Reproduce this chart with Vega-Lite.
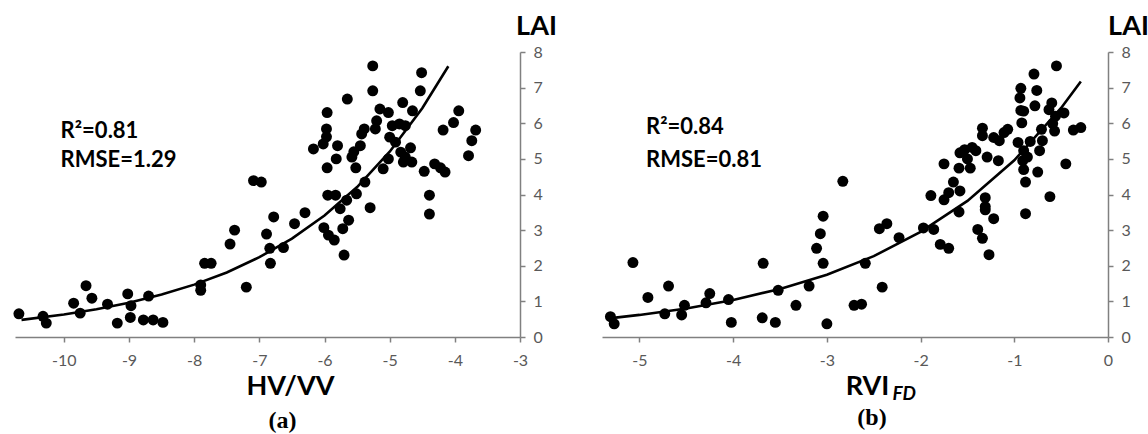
{
  "$schema": "https://vega.github.io/schema/vega-lite/v6.json",
  "padding": {"left": 13, "top": 12, "right": 2, "bottom": 2},
  "background": "white",
  "bounds": "flush",
  "spacing": 82,
  "config": {
    "view": {"stroke": null},
    "axis": {
      "grid": false,
      "domainColor": "#808080",
      "domainWidth": 1.5,
      "tickColor": "#808080",
      "tickWidth": 1.5,
      "tickSize": 5,
      "labelColor": "#595959",
      "labelFont": "Lato",
      "labelFontSize": 16,
      "labelBound": false,
      "labelFlush": false,
      "labelOverlap": false,
      "labelExpr": "'' + datum.value",
      "titleFont": "Lato",
      "titleFontSize": 27,
      "titleFontWeight": "bold",
      "titleColor": "black"
    }
  },
  "datasets": {
    "a": [
      {"x": -10.69, "y": 0.65}, {"x": -10.32, "y": 0.58}, {"x": -10.27, "y": 0.39}, {"x": -9.85, "y": 0.95},
      {"x": -9.75, "y": 0.67}, {"x": -9.66, "y": 1.44}, {"x": -9.57, "y": 1.09}, {"x": -9.33, "y": 0.92},
      {"x": -9.18, "y": 0.39}, {"x": -9.02, "y": 1.21}, {"x": -8.97, "y": 0.88}, {"x": -8.98, "y": 0.55},
      {"x": -8.78, "y": 0.48}, {"x": -8.7, "y": 1.15}, {"x": -8.63, "y": 0.48}, {"x": -8.48, "y": 0.41},
      {"x": -7.9, "y": 1.46}, {"x": -7.9, "y": 1.31}, {"x": -7.84, "y": 2.07}, {"x": -7.74, "y": 2.07},
      {"x": -7.45, "y": 2.61}, {"x": -7.38, "y": 3.0}, {"x": -7.2, "y": 1.4}, {"x": -7.09, "y": 4.39},
      {"x": -6.97, "y": 4.35}, {"x": -6.89, "y": 2.89}, {"x": -6.84, "y": 2.49}, {"x": -6.83, "y": 2.07},
      {"x": -6.78, "y": 3.37}, {"x": -6.63, "y": 2.51}, {"x": -6.46, "y": 3.18}, {"x": -6.3, "y": 3.49},
      {"x": -6.17, "y": 5.28}, {"x": -6.02, "y": 5.42}, {"x": -5.97, "y": 5.84}, {"x": -5.97, "y": 5.62},
      {"x": -5.96, "y": 6.3}, {"x": -5.96, "y": 4.75}, {"x": -5.95, "y": 3.98}, {"x": -6.01, "y": 3.07},
      {"x": -5.94, "y": 2.86}, {"x": -5.85, "y": 2.72}, {"x": -5.83, "y": 3.98}, {"x": -5.8, "y": 5.37},
      {"x": -5.82, "y": 5.0}, {"x": -5.76, "y": 3.6}, {"x": -5.72, "y": 3.04}, {"x": -5.7, "y": 2.3},
      {"x": -5.66, "y": 3.84}, {"x": -5.65, "y": 6.68}, {"x": -5.63, "y": 3.28}, {"x": -5.58, "y": 5.05},
      {"x": -5.55, "y": 5.2}, {"x": -5.52, "y": 4.75}, {"x": -5.51, "y": 4.02}, {"x": -5.45, "y": 5.37},
      {"x": -5.43, "y": 5.7}, {"x": -5.38, "y": 4.35}, {"x": -5.39, "y": 5.84}, {"x": -5.3, "y": 3.63},
      {"x": -5.26, "y": 7.61}, {"x": -5.26, "y": 6.91}, {"x": -5.22, "y": 5.84}, {"x": -5.2, "y": 6.07},
      {"x": -5.15, "y": 6.4}, {"x": -5.1, "y": 4.72}, {"x": -5.02, "y": 6.3}, {"x": -5.02, "y": 5.0},
      {"x": -5.0, "y": 5.61}, {"x": -4.96, "y": 5.93}, {"x": -4.91, "y": 5.47}, {"x": -4.85, "y": 5.98},
      {"x": -4.83, "y": 5.19}, {"x": -4.8, "y": 6.58}, {"x": -4.79, "y": 4.91}, {"x": -4.76, "y": 5.93},
      {"x": -4.76, "y": 5.05}, {"x": -4.68, "y": 5.31}, {"x": -4.66, "y": 4.91}, {"x": -4.65, "y": 6.35},
      {"x": -4.51, "y": 7.42}, {"x": -4.53, "y": 6.91}, {"x": -4.47, "y": 4.65}, {"x": -4.39, "y": 3.98},
      {"x": -4.39, "y": 3.45}, {"x": -4.31, "y": 4.86}, {"x": -4.22, "y": 4.75}, {"x": -4.15, "y": 4.63},
      {"x": -4.18, "y": 5.81}, {"x": -4.02, "y": 6.02}, {"x": -3.94, "y": 6.35}, {"x": -3.79, "y": 5.09},
      {"x": -3.74, "y": 5.51}, {"x": -3.68, "y": 5.81}
    ],
    "curve_a": [
      {"x": -10.65, "y": 0.48}, {"x": -10.0, "y": 0.63}, {"x": -9.5, "y": 0.78}, {"x": -9.0, "y": 0.96},
      {"x": -8.5, "y": 1.19}, {"x": -8.0, "y": 1.47}, {"x": -7.5, "y": 1.81}, {"x": -7.0, "y": 2.24},
      {"x": -6.5, "y": 2.76}, {"x": -6.0, "y": 3.41}, {"x": -5.5, "y": 4.21}, {"x": -5.0, "y": 5.2},
      {"x": -4.5, "y": 6.42}, {"x": -4.1, "y": 7.6}
    ],
    "b": [
      {"x": -5.31, "y": 0.57}, {"x": -5.27, "y": 0.37}, {"x": -5.07, "y": 2.09}, {"x": -4.91, "y": 1.11},
      {"x": -4.73, "y": 0.65}, {"x": -4.69, "y": 1.43}, {"x": -4.55, "y": 0.62}, {"x": -4.52, "y": 0.89},
      {"x": -4.29, "y": 0.96}, {"x": -4.25, "y": 1.22}, {"x": -4.05, "y": 1.05}, {"x": -4.02, "y": 0.41},
      {"x": -3.69, "y": 0.54}, {"x": -3.68, "y": 2.07}, {"x": -3.55, "y": 0.41}, {"x": -3.52, "y": 1.31},
      {"x": -3.33, "y": 0.89}, {"x": -3.19, "y": 1.43}, {"x": -3.11, "y": 2.49}, {"x": -3.07, "y": 2.9},
      {"x": -3.04, "y": 3.39}, {"x": -3.04, "y": 2.07}, {"x": -3.0, "y": 0.37}, {"x": -2.83, "y": 4.37},
      {"x": -2.71, "y": 0.89}, {"x": -2.63, "y": 0.92}, {"x": -2.59, "y": 2.07}, {"x": -2.44, "y": 3.04},
      {"x": -2.36, "y": 3.18}, {"x": -2.41, "y": 1.4}, {"x": -2.23, "y": 2.79}, {"x": -1.97, "y": 3.06},
      {"x": -1.89, "y": 3.97}, {"x": -1.86, "y": 3.02}, {"x": -1.79, "y": 2.6}, {"x": -1.75, "y": 4.86},
      {"x": -1.75, "y": 3.85}, {"x": -1.7, "y": 2.49}, {"x": -1.7, "y": 4.05}, {"x": -1.65, "y": 4.35},
      {"x": -1.59, "y": 4.74}, {"x": -1.59, "y": 3.51}, {"x": -1.58, "y": 4.1}, {"x": -1.58, "y": 5.17},
      {"x": -1.53, "y": 5.26}, {"x": -1.5, "y": 5.0}, {"x": -1.47, "y": 4.74}, {"x": -1.45, "y": 5.32},
      {"x": -1.41, "y": 5.23}, {"x": -1.39, "y": 3.02}, {"x": -1.34, "y": 5.86}, {"x": -1.34, "y": 5.65},
      {"x": -1.34, "y": 2.77}, {"x": -1.31, "y": 3.91}, {"x": -1.31, "y": 3.66}, {"x": -1.31, "y": 3.57},
      {"x": -1.29, "y": 5.05}, {"x": -1.27, "y": 2.31}, {"x": -1.22, "y": 3.32}, {"x": -1.22, "y": 5.6},
      {"x": -1.17, "y": 4.95}, {"x": -1.16, "y": 5.51}, {"x": -1.11, "y": 5.74}, {"x": -1.07, "y": 5.83},
      {"x": -0.96, "y": 5.46}, {"x": -0.94, "y": 6.71}, {"x": -0.93, "y": 6.98}, {"x": -0.93, "y": 6.36},
      {"x": -0.92, "y": 6.01}, {"x": -0.91, "y": 4.95}, {"x": -0.9, "y": 4.7}, {"x": -0.9, "y": 5.23},
      {"x": -0.88, "y": 4.35}, {"x": -0.88, "y": 3.46}, {"x": -0.9, "y": 6.34}, {"x": -0.86, "y": 5.05},
      {"x": -0.83, "y": 5.49}, {"x": -0.79, "y": 7.38}, {"x": -0.78, "y": 6.49}, {"x": -0.76, "y": 6.92},
      {"x": -0.75, "y": 4.63}, {"x": -0.73, "y": 5.23}, {"x": -0.71, "y": 5.83}, {"x": -0.7, "y": 5.51},
      {"x": -0.62, "y": 3.94}, {"x": -0.6, "y": 6.57}, {"x": -0.63, "y": 6.38}, {"x": -0.59, "y": 5.99},
      {"x": -0.57, "y": 5.78}, {"x": -0.55, "y": 7.61}, {"x": -0.56, "y": 6.2}, {"x": -0.47, "y": 6.29},
      {"x": -0.45, "y": 4.86}, {"x": -0.37, "y": 5.81}, {"x": -0.29, "y": 5.88}
    ],
    "curve_b": [
      {"x": -5.3, "y": 0.53}, {"x": -5.0, "y": 0.62}, {"x": -4.5, "y": 0.8}, {"x": -4.0, "y": 1.04},
      {"x": -3.5, "y": 1.35}, {"x": -3.0, "y": 1.75}, {"x": -2.5, "y": 2.27}, {"x": -2.0, "y": 2.95},
      {"x": -1.5, "y": 3.82}, {"x": -1.0, "y": 4.96}, {"x": -0.5, "y": 6.43}, {"x": -0.29, "y": 7.17}
    ]
  },
  "hconcat": [
    {
      "width": 505,
      "height": 285,
      "title": {"text": "(a)", "orient": "bottom", "frame": "group", "dx": 15, "offset": 10, "font": "Liberation Serif", "fontSize": 24, "fontWeight": "bold", "color": "black"},
      "layer": [
        {
          "data": {"name": "a"},
          "mark": {"type": "point", "filled": true, "size": 120, "color": "black", "opacity": 1},
          "encoding": {
            "x": {"field": "x", "type": "quantitative", "scale": {"domain": [-10.75, -3], "nice": false, "zero": false},
              "axis": {"values": [-10, -9, -8, -7, -6, -5, -4, -3], "labelPadding": 10, "title": "HV/VV", "titleX": 275, "titleY": 57, "titleBaseline": "alphabetic", "titleAlign": "center"}},
            "y": {"field": "y", "type": "quantitative", "scale": {"domain": [0, 8], "nice": false},
              "axis": {"orient": "right", "values": [0, 1, 2, 3, 4, 5, 6, 7, 8], "labelPadding": 8, "title": "LAI", "titleAngle": 0, "titleX": 16, "titleY": -18, "titleAlign": "center", "titleBaseline": "alphabetic"}}
          }
        },
        {
          "data": {"name": "curve_a"},
          "mark": {"type": "line", "color": "black", "strokeWidth": 2.6},
          "encoding": {
            "x": {"field": "x", "type": "quantitative", "scale": {"domain": [-10.75, -3], "nice": false, "zero": false},
              "axis": {"values": [-10, -9, -8, -7, -6, -5, -4, -3], "labelPadding": 10, "title": "HV/VV", "titleX": 275, "titleY": 57, "titleBaseline": "alphabetic", "titleAlign": "center"}},
            "y": {"field": "y", "type": "quantitative", "scale": {"domain": [0, 8], "nice": false},
              "axis": {"orient": "right", "values": [0, 1, 2, 3, 4, 5, 6, 7, 8], "labelPadding": 8, "title": "LAI", "titleAngle": 0, "titleX": 16, "titleY": -18, "titleAlign": "center", "titleBaseline": "alphabetic"}}
          }
        },
        {
          "data": {"values": [{"label": "R²=0.81"}]},
          "mark": {"type": "text", "align": "left", "baseline": "alphabetic", "font": "Lato", "fontSize": 22, "fontWeight": "bold", "color": "black"},
          "encoding": {
            "x": {"datum": -10.05, "type": "quantitative", "scale": {"domain": [-10.75, -3], "nice": false, "zero": false},
              "axis": {"values": [-10, -9, -8, -7, -6, -5, -4, -3], "labelPadding": 10, "title": "HV/VV", "titleX": 275, "titleY": 57, "titleBaseline": "alphabetic", "titleAlign": "center"}},
            "y": {"datum": 5.59, "type": "quantitative", "scale": {"domain": [0, 8], "nice": false},
              "axis": {"orient": "right", "values": [0, 1, 2, 3, 4, 5, 6, 7, 8], "labelPadding": 8, "title": "LAI", "titleAngle": 0, "titleX": 16, "titleY": -18, "titleAlign": "center", "titleBaseline": "alphabetic"}},
            "text": {"field": "label"}
          }
        },
        {
          "data": {"values": [{"label": "RMSE=1.29"}]},
          "mark": {"type": "text", "align": "left", "baseline": "alphabetic", "font": "Lato", "fontSize": 22, "fontWeight": "bold", "color": "black"},
          "encoding": {
            "x": {"datum": -10.05, "type": "quantitative", "scale": {"domain": [-10.75, -3], "nice": false, "zero": false},
              "axis": {"values": [-10, -9, -8, -7, -6, -5, -4, -3], "labelPadding": 10, "title": "HV/VV", "titleX": 275, "titleY": 57, "titleBaseline": "alphabetic", "titleAlign": "center"}},
            "y": {"datum": 4.78, "type": "quantitative", "scale": {"domain": [0, 8], "nice": false},
              "axis": {"orient": "right", "values": [0, 1, 2, 3, 4, 5, 6, 7, 8], "labelPadding": 8, "title": "LAI", "titleAngle": 0, "titleX": 16, "titleY": -18, "titleAlign": "center", "titleBaseline": "alphabetic"}},
            "text": {"field": "label"}
          }
        }
      ]
    },
    {
      "width": 506,
      "height": 285,
      "title": {"text": "(b)", "orient": "bottom", "frame": "group", "dx": 17, "offset": 2, "font": "Liberation Serif", "fontSize": 24, "fontWeight": "bold", "color": "black"},
      "layer": [
        {
          "data": {"name": "b"},
          "mark": {"type": "point", "filled": true, "size": 120, "color": "black", "opacity": 1},
          "encoding": {
            "x": {"field": "x", "type": "quantitative", "scale": {"domain": [-5.4, 0], "nice": false, "zero": false},
              "axis": {"values": [-5, -4, -3, -2, -1, 0], "labelPadding": 10, "title": "RVI", "titleX": 265, "titleY": 57, "titleBaseline": "alphabetic", "titleAlign": "center"}},
            "y": {"field": "y", "type": "quantitative", "scale": {"domain": [0, 8], "nice": false},
              "axis": {"orient": "right", "values": [0, 1, 2, 3, 4, 5, 6, 7, 8], "labelPadding": 8, "title": "LAI", "titleAngle": 0, "titleX": 20, "titleY": -18, "titleAlign": "center", "titleBaseline": "alphabetic"}}
          }
        },
        {
          "data": {"name": "curve_b"},
          "mark": {"type": "line", "color": "black", "strokeWidth": 2.6},
          "encoding": {
            "x": {"field": "x", "type": "quantitative", "scale": {"domain": [-5.4, 0], "nice": false, "zero": false},
              "axis": {"values": [-5, -4, -3, -2, -1, 0], "labelPadding": 10, "title": "RVI", "titleX": 265, "titleY": 57, "titleBaseline": "alphabetic", "titleAlign": "center"}},
            "y": {"field": "y", "type": "quantitative", "scale": {"domain": [0, 8], "nice": false},
              "axis": {"orient": "right", "values": [0, 1, 2, 3, 4, 5, 6, 7, 8], "labelPadding": 8, "title": "LAI", "titleAngle": 0, "titleX": 20, "titleY": -18, "titleAlign": "center", "titleBaseline": "alphabetic"}}
          }
        },
        {
          "data": {"values": [{"label": "R²=0.84"}]},
          "mark": {"type": "text", "align": "left", "baseline": "alphabetic", "font": "Lato", "fontSize": 22, "fontWeight": "bold", "color": "black"},
          "encoding": {
            "x": {"datum": -4.93, "type": "quantitative", "scale": {"domain": [-5.4, 0], "nice": false, "zero": false},
              "axis": {"values": [-5, -4, -3, -2, -1, 0], "labelPadding": 10, "title": "RVI", "titleX": 265, "titleY": 57, "titleBaseline": "alphabetic", "titleAlign": "center"}},
            "y": {"datum": 5.7, "type": "quantitative", "scale": {"domain": [0, 8], "nice": false},
              "axis": {"orient": "right", "values": [0, 1, 2, 3, 4, 5, 6, 7, 8], "labelPadding": 8, "title": "LAI", "titleAngle": 0, "titleX": 20, "titleY": -18, "titleAlign": "center", "titleBaseline": "alphabetic"}},
            "text": {"field": "label"}
          }
        },
        {
          "data": {"values": [{"label": "RMSE=0.81"}]},
          "mark": {"type": "text", "align": "left", "baseline": "alphabetic", "font": "Lato", "fontSize": 22, "fontWeight": "bold", "color": "black"},
          "encoding": {
            "x": {"datum": -4.93, "type": "quantitative", "scale": {"domain": [-5.4, 0], "nice": false, "zero": false},
              "axis": {"values": [-5, -4, -3, -2, -1, 0], "labelPadding": 10, "title": "RVI", "titleX": 265, "titleY": 57, "titleBaseline": "alphabetic", "titleAlign": "center"}},
            "y": {"datum": 4.78, "type": "quantitative", "scale": {"domain": [0, 8], "nice": false},
              "axis": {"orient": "right", "values": [0, 1, 2, 3, 4, 5, 6, 7, 8], "labelPadding": 8, "title": "LAI", "titleAngle": 0, "titleX": 20, "titleY": -18, "titleAlign": "center", "titleBaseline": "alphabetic"}},
            "text": {"field": "label"}
          }
        },
        {
          "data": {"values": [{"label": "FD"}]},
          "mark": {"type": "text", "align": "left", "baseline": "alphabetic", "font": "Lato", "fontSize": 19, "fontWeight": "bold", "fontStyle": "italic", "color": "black"},
          "encoding": {
            "x": {"datum": -2.3, "type": "quantitative", "scale": {"domain": [-5.4, 0], "nice": false, "zero": false},
              "axis": {"values": [-5, -4, -3, -2, -1, 0], "labelPadding": 10, "title": "RVI", "titleX": 265, "titleY": 57, "titleBaseline": "alphabetic", "titleAlign": "center"}},
            "y": {"datum": -1.76, "type": "quantitative", "scale": {"domain": [0, 8], "nice": false},
              "axis": {"orient": "right", "values": [0, 1, 2, 3, 4, 5, 6, 7, 8], "labelPadding": 8, "title": "LAI", "titleAngle": 0, "titleX": 20, "titleY": -18, "titleAlign": "center", "titleBaseline": "alphabetic"}},
            "text": {"field": "label"}
          }
        }
      ]
    }
  ]
}
